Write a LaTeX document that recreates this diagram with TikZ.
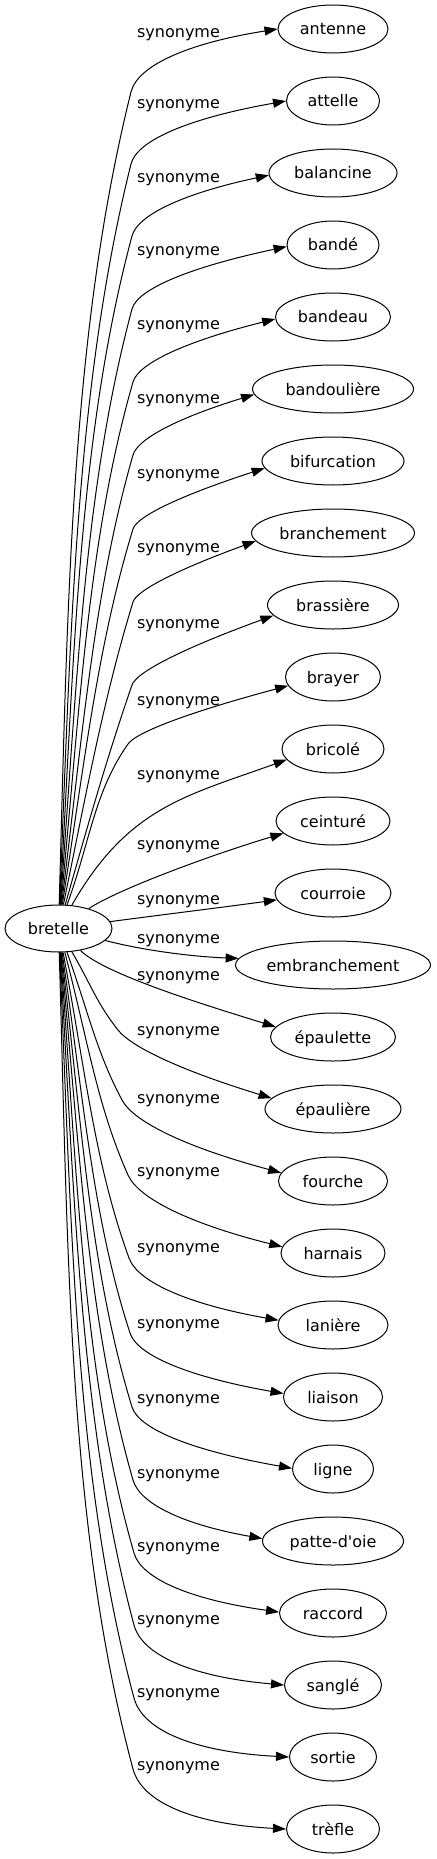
\documentclass[tikz,border=0pt]{standalone}
\usepackage{fontspec}
\setmainfont{DejaVu Sans}[Ligatures=TeXOff]
\usetikzlibrary{shapes.geometric,arrows.meta}
\begin{document}
\begin{tikzpicture}[x=1pt,y=1pt,
  every node/.style={font=\fontsize{16}{19}\selectfont},
  tgt/.style={ellipse, draw, line width=1pt, minimum height=48pt, inner sep=0pt, text height=12pt, text depth=0pt},
  lbl/.style={inner sep=0pt, text height=12pt, text depth=0pt},
  edge/.style={draw, line width=1pt, -{Triangle[length=13pt,width=9pt]}}]
\useasboundingbox (0,0) rectangle (436,-1859);
\node[tgt, minimum width=107pt, minimum height=47pt] (b) at (58.5,-928.5) {bretelle};
\foreach \i/\txt/\yk/\w/\ly in {
0/antenne/29/110/32,
1/attelle/101/93/103,
2/balancine/173/128/177,
3/bandé/245/92/250,
4/bandeau/317/115/324,
5/bandoulière/389/161/397,
6/bifurcation/461/142/472,
7/branchement/533/163/546,
8/brassière/605/131/622,
9/brayer/677/95/699,
10/bricolé/749/102/773,
11/ceinturé/821/114/843,
12/courroie/893/116/898,
13/embranchement/965/195/937,
14/épaulette/1037/125/974,
15/épaulière/1109/136/1029,
16/fourche/1181/109/1097,
17/harnais/1253/104/1170,
18/lanière/1325/110/1246,
19/liaison/1397/99/1322,
20/ligne/1469/81/1397,
21/patte-d'oie/1541/141/1472,
22/raccord/1613/107/1545,
23/sanglé/1685/97/1618,
24/sortie/1757/87/1691,
25/trèfle/1829/93/1764}
{
  \node[tgt, minimum width=\w pt] (n\i) at (333,-\yk) {\txt};
  \node[lbl] (l\i) at (178.5,-\ly) {synonyme};
}
% two-segment edges
\foreach \i/\w/\yk/\anc/\th/\px/\py/\ap in {
0/110/29/180/9/131/92/76,
1/93/101/180/10/131/164/76,
2/128/173/182/12/132/236/75,
3/92/245/182/12/132/309/75,
4/115/317/182/14/133/382/74,
5/161/389/184/17/133/455/74,
6/142/461/186/18/133/529/73,
7/163/533/186/20/133/602/73,
8/131/605/190/20/132/685/71,
9/95/677/191/15/128/744/55,
15/136/1109/170/-17/118/1030/-52,
16/109/1181/171/-15/122/1100/-62,
17/104/1253/173/-14/128/1175/-66,
18/110/1325/175/-10/129/1258/-70,
19/99/1397/176/-10/130/1333/-72,
20/81/1469/179/-10/132/1407/-73,
21/141/1541/178/-10/133/1480/-74,
22/107/1613/179/-8/134/1553/-74,
23/97/1685/180/-5/134/1625/-75,
24/87/1757/180/-3/134/1698/-75,
25/93/1829/180/-3/133/1769/-75}
{
  \pgfmathsetmacro\dx{\px-58.5}
  \pgfmathsetmacro\dy{928.5-\py}
  \pgfmathsetmacro\L{veclen(\dx,\dy)}
  \pgfmathsetmacro\dir{atan2(\dy,\dx)}
  \pgfmathsetmacro\sg{\dy/abs(\dy)}
  \pgfmathsetmacro\aout{\dir+\sg*0.004*\L}
  \pgfmathsetmacro\ain{\ap+180}
  \pgfmathsetmacro\dA{0.35*\L}
  \pgfmathsetmacro\dB{0.3*\L}
  % tip of the arrow on the ellipse
  \pgfmathsetmacro\rr{1/sqrt((cos(\anc))^2/(0.25*\w*\w)+(sin(\anc))^2/576)}
  \pgfmathsetmacro\Dx{333+\rr*cos(\anc)-\px}
  \pgfmathsetmacro\Dy{-\yk+\rr*sin(\anc)+\py}
  \pgfmathsetmacro\ux{cos(\ap)}
  \pgfmathsetmacro\uy{sin(\ap)}
  \pgfmathsetmacro\vx{cos(\th)}
  \pgfmathsetmacro\vy{sin(\th)}
  \pgfmathsetmacro\cro{\ux*\vy-\uy*\vx}
  \pgfmathsetmacro\tA{(\Dx*\vy-\Dy*\vx)/\cro}
  \pgfmathsetmacro\sA{(\ux*\Dy-\uy*\Dx)/\cro}
  \pgfmathsetmacro\dC{max(0.65*\tA,4)}
  \pgfmathsetmacro\dD{max(0.65*\sA,20)}
  \pgfmathsetmacro\tin{\th+180}
  \draw[edge] (b) to[out=\aout, in=\ain, out distance=\dA pt, in distance=\dB pt] (\px,-\py)
     to[out=\ap, in=\tin, out distance=\dC pt, in distance=\dD pt] (n\i.\anc);
}
% single-segment edges
\draw[edge] (b) .. controls (128,-807) and (186,-796) .. (n10.193);
\draw[edge] (b) .. controls (120,-888) and (220,-852) .. (n11.194);
\draw[edge] (b) .. controls (160,-915) and (225,-907) .. (n12.187);
\draw[edge] (b) .. controls (150,-952) and (200,-957) .. (n13.176);
\draw[edge] (b) .. controls (105,-975) and (215,-1008) .. (n14.170);
\end{tikzpicture}
\end{document}
